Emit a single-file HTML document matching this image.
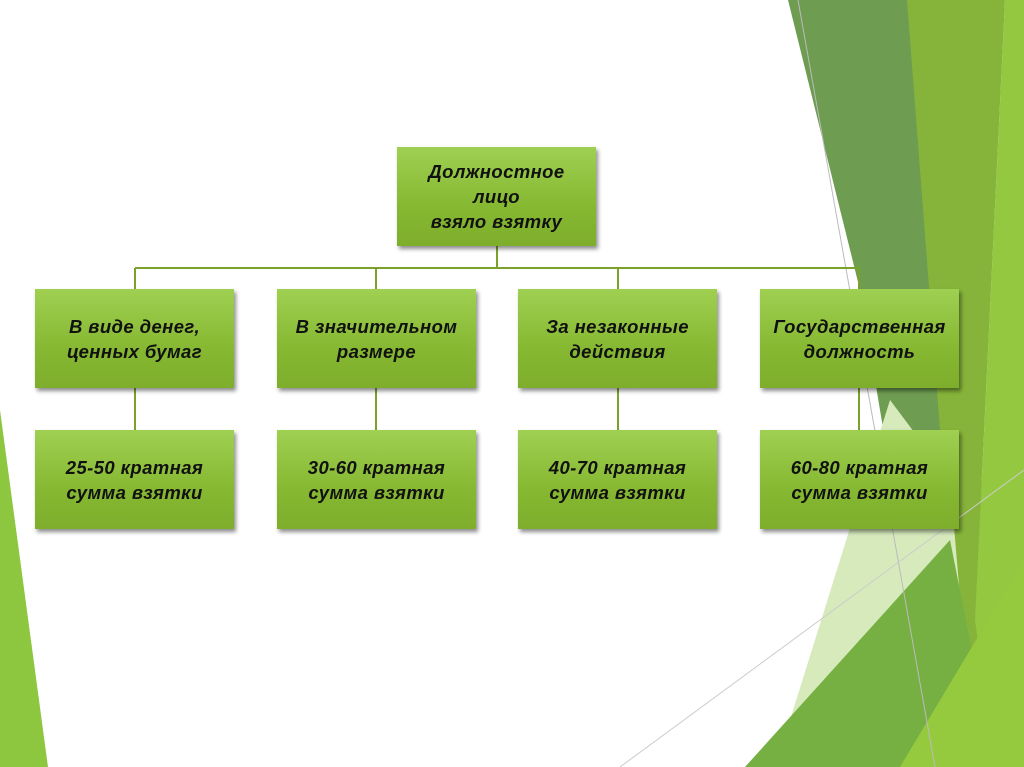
<!DOCTYPE html>
<html><head><meta charset="utf-8"><style>
body{margin:0;width:1024px;height:767px;overflow:hidden;background:#fff;position:relative;font-family:"Liberation Sans",sans-serif}
svg{position:absolute;left:0;top:0}
.b{position:absolute;width:199px;height:99px;background:linear-gradient(#9fd052,#86b832 60%,#7eae2c);box-shadow:2px 3px 4px rgba(0,0,0,.45);display:flex;align-items:center;justify-content:center;text-align:center;font-weight:bold;font-style:italic;font-size:18.5px;letter-spacing:0.4px;line-height:25px;color:#111;white-space:nowrap}
</style></head><body>
<svg width="1024" height="767">
<polygon points="0,410 48,767 0,767" fill="#8dc63f"/>
<polygon points="940,480 1024,480 1024,767 960,767" fill="#86b43a"/>
<polygon points="788,0 910,0 955,570 905,560 860,290" fill="#6e9d52"/>
<polygon points="907,0 1005,0 975,620 955,600 950,560" fill="#86b43a"/>
<polygon points="1005,0 1024,0 1024,767 995,767 975,620" fill="#93c840"/>
<polygon points="890,400 950,480 962,620 790,720" fill="#d6eabc"/>
<polygon points="745,767 950,540 995,767" fill="#76b043"/>
<polygon points="900,767 1024,560 1024,767" fill="#95c93e"/>
<line x1="798" y1="0" x2="935" y2="767" stroke="#bbb" stroke-width="1"/>
<line x1="620" y1="767" x2="1024" y2="470" stroke="#ccc" stroke-width="1"/>
<g stroke="#7aa22a" stroke-width="2" fill="none">
<line x1="497" y1="246" x2="497" y2="268"/>
<line x1="135" y1="268" x2="859" y2="268"/>
<line x1="135" y1="268" x2="135" y2="289"/><line x1="376" y1="268" x2="376" y2="289"/>
<line x1="618" y1="268" x2="618" y2="289"/><line x1="859" y1="268" x2="859" y2="289"/>
<line x1="135" y1="388" x2="135" y2="430"/><line x1="376" y1="388" x2="376" y2="430"/>
<line x1="618" y1="388" x2="618" y2="430"/><line x1="859" y1="388" x2="859" y2="430"/>
</g></svg>
<div class="b" style="left:397px;top:147px">Должностное<br>лицо<br>взяло взятку</div>
<div class="b" style="left:35px;top:289px">В виде денег,<br>ценных бумаг</div>
<div class="b" style="left:277px;top:289px">В значительном<br>размере</div>
<div class="b" style="left:518px;top:289px">За незаконные<br>действия</div>
<div class="b" style="left:760px;top:289px">Государственная<br>должность</div>
<div class="b" style="left:35px;top:430px">25-50 кратная<br>сумма взятки</div>
<div class="b" style="left:277px;top:430px">30-60 кратная<br>сумма взятки</div>
<div class="b" style="left:518px;top:430px">40-70 кратная<br>сумма взятки</div>
<div class="b" style="left:760px;top:430px">60-80 кратная<br>сумма взятки</div>
</body></html>
